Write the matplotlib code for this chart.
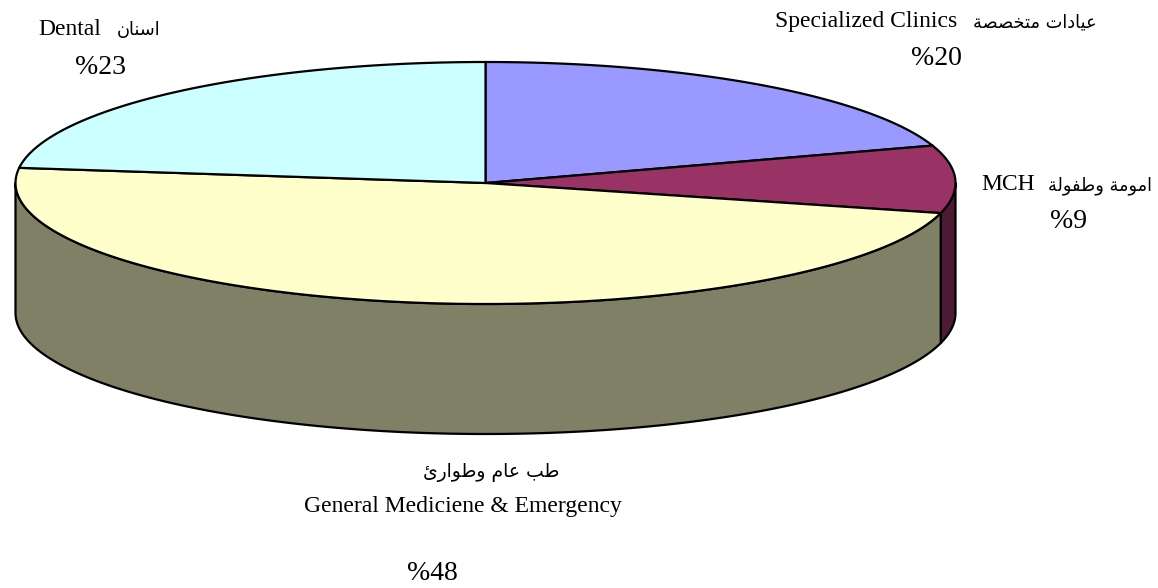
import numpy as np
import matplotlib
matplotlib.use("Agg")
import matplotlib.pyplot as plt
from matplotlib.patches import Polygon

# slice data (clockwise from 12 o'clock)
labels_en = ["Specialized Clinics", "MCH", "General Mediciene & Emergency", "Dental"]
# Arabic in visual order using presentation forms (matplotlib does no shaping)
labels_ar = [
    "\uFE94\uFEBC\uFEBC\uFEA8\uFE98\uFEE3 \uFE95\uFE8D\uFEA9\uFE8E\uFEF4\uFECB",   # عيادات متخصصة
    "\uFE94\uFEDF\uFEEE\uFED4\uFEC3\uFEED \uFE94\uFEE3\uFEEE\uFEE3\uFE8D",          # امومة وطفولة
    "\uFE89\uFEAD\uFE8D\uFEEE\uFEC3\uFEED \uFEE1\uFE8E\uFECB \uFE90\uFEC3",        # طب عام وطوارئ
    "\uFEE5\uFE8E\uFEE8\uFEB3\uFE8D",                                               # اسنان
]
values = [20, 9, 48, 23]
pct_labels = ["%20", "%9", "%48", "%23"]
top_colors = ["#9999FF", "#993366", "#FFFFCC", "#CCFFFF"]

# geometry of the pseudo 3D pie (pixels)
cx, cy, rx, ry, depth = 485.5, 183, 470, 121, 130

W, H = 1158, 588
fig = plt.figure(figsize=(W / 100, H / 100), dpi=100)
ax = fig.add_axes([0, 0, 1, 1])
ax.set_xlim(0, W)
ax.set_ylim(H, 0)
ax.axis("off")


def arc(t0, t1, dy=0, n=200):
    t = np.radians(np.linspace(t0, t1, n))
    return np.column_stack([cx + rx * np.cos(t), cy - ry * np.sin(t) + dy])


def darker(c, f=0.5):
    r, g, b = matplotlib.colors.to_rgb(c)
    return (r * f, g * f, b * f)


total = sum(values)
cum = np.concatenate([[0], np.cumsum(values)])
starts = 90 - 360 * cum[:-1] / total
ends = 90 - 360 * cum[1:] / total

# side walls (front half only)
for a0, a1, col in zip(starts, ends, top_colors):
    for k in (-1, 0, 1):
        lo = max(a1, -180 + 360 * k)
        hi = min(a0, 360 * k)
        if hi > lo:
            pts = np.vstack([arc(lo, hi), arc(hi, lo, dy=depth)])
            ax.add_patch(Polygon(pts, closed=True, fc=darker(col), ec="black",
                                 lw=1.6, joinstyle="round"))

# top faces
for a0, a1, col in zip(starts, ends, top_colors):
    pts = np.vstack([[cx, cy], arc(a0, a1)])
    ax.add_patch(Polygon(pts, closed=True, fc=col, ec="black", lw=1.6,
                         joinstyle="round"))

serif = ["Liberation Serif", "DejaVu Serif"]
arab = ["DejaVu Sans"]
fs_en, fs_ar, fs_pct = 17, 12.8, 20

# Specialized Clinics
ax.text(957, 27, labels_en[0], family=serif, fontsize=fs_en, ha="right", va="baseline")
ax.text(973, 27, labels_ar[0], family=arab, fontsize=fs_ar, ha="left", va="baseline")
ax.text(936, 65, pct_labels[0], family=serif, fontsize=fs_pct, ha="center", va="baseline")

# MCH
ax.text(1035, 190, labels_en[1], family=serif, fontsize=fs_en, ha="right", va="baseline")
ax.text(1048, 190, labels_ar[1], family=arab, fontsize=fs_ar, ha="left", va="baseline")
ax.text(1069, 228, pct_labels[1], family=serif, fontsize=fs_pct, ha="center", va="baseline")

# General
ax.text(491, 477, labels_ar[2], family=arab, fontsize=13.5, ha="center", va="baseline")
ax.text(463, 512, labels_en[2], family=serif, fontsize=fs_en, ha="center", va="baseline")
ax.text(432, 580, pct_labels[2], family=serif, fontsize=fs_pct, ha="center", va="baseline")

# Dental
ax.text(101, 35, labels_en[3], family=serif, fontsize=fs_en, ha="right", va="baseline")
ax.text(117, 35, labels_ar[3], family=arab, fontsize=fs_ar, ha="left", va="baseline")
ax.text(100, 74, pct_labels[3], family=serif, fontsize=fs_pct, ha="center", va="baseline")

fig.savefig("out.png", dpi=100)
